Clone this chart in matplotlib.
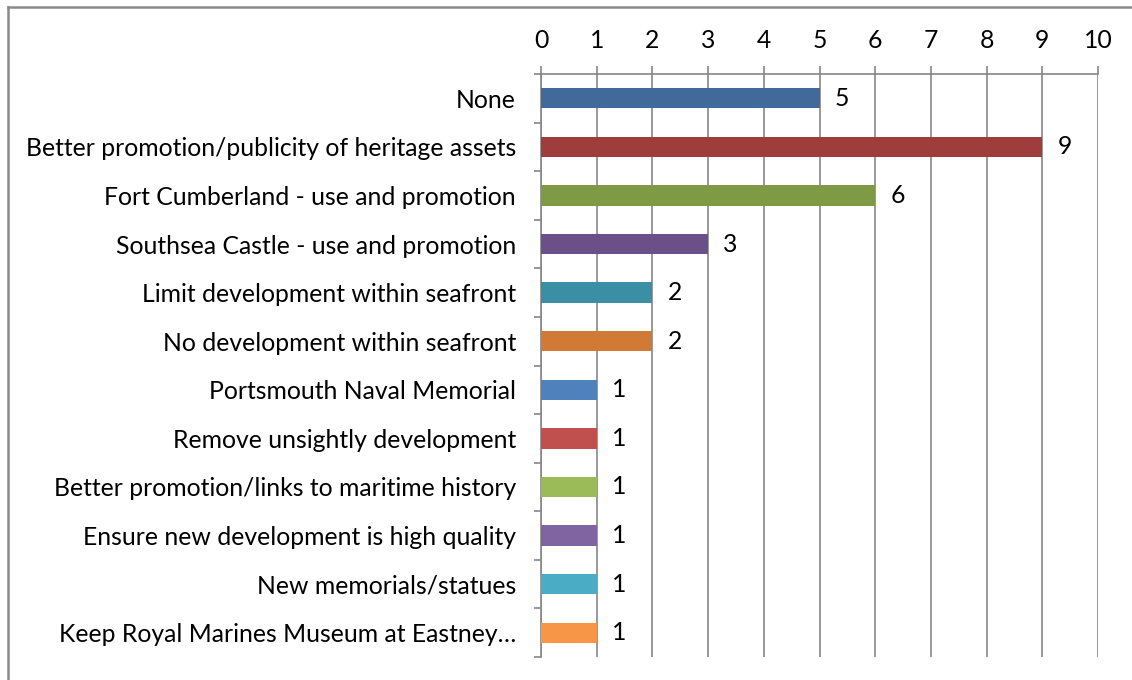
import matplotlib
matplotlib.use("Agg")
import matplotlib.pyplot as plt
from matplotlib.lines import Line2D

categories = [
    "None",
    "Better promotion/publicity of heritage assets",
    "Fort Cumberland - use and promotion",
    "Southsea Castle - use and promotion",
    "Limit development within seafront",
    "No development within seafront",
    "Portsmouth Naval Memorial",
    "Remove unsightly development",
    "Better promotion/links to maritime history",
    "Ensure new development is high quality",
    "New memorials/statues",
    "Keep Royal Marines Museum at Eastney\u2026",
]
values = [5, 9, 6, 3, 2, 2, 1, 1, 1, 1, 1, 1]
colors = ["#41699A", "#9E3D3C", "#7E9A44", "#6A4F88", "#3A8FA5", "#D07A36",
          "#4F81BD", "#C0504D", "#9BBB59", "#8064A2", "#4BACC6", "#F79646"]
x_ticks = list(range(0, 11))

FS = 17.8
plt.rcParams['font.family'] = ['Lato', 'DejaVu Sans']
fig = plt.figure(figsize=(11.32, 6.8), dpi=100)
ax = fig.add_axes([541/1132, 1-657/680, (1098-541)/1132, (657-74)/680])

pos = list(range(len(categories)))
ax.barh(pos, values, height=0.42, color=colors, zorder=3)
for p, v in zip(pos, values):
    ax.annotate(str(v), (v, p), xytext=(11, 0), textcoords='offset points',
                va='center', ha='left', fontsize=FS, color='black')

ax.set_xlim(0, 10)
ax.set_ylim(len(categories) - 0.5, -0.5)
ax.set_xticks(x_ticks)
ax.xaxis.tick_top()
ax.tick_params(axis='x', direction='out', length=6, width=1.2, color='#868686',
               labelsize=FS, pad=10)
ax.grid(axis='x', color='#868686', linewidth=1.2, zorder=0)

ax.set_yticks(pos)
ax.set_yticklabels(categories, fontsize=FS)
ax.tick_params(axis='y', which='major', length=0, pad=18)
ax.set_yticks([i - 0.5 for i in range(len(categories) + 1)], minor=True)
ax.tick_params(axis='y', which='minor', direction='out', length=5, width=1.2, color='#868686')

for s in ['right', 'bottom']:
    ax.spines[s].set_visible(False)
for s in ['left', 'top']:
    ax.spines[s].set_color('#868686')
    ax.spines[s].set_linewidth(1.2)

# chart frame (partially cropped)
fig.add_artist(Line2D([8/1132, 8/1132], [0, 1-7/680], transform=fig.transFigure,
                      color='#8a8a8a', linewidth=1.8))
fig.add_artist(Line2D([8/1132, 1], [1-7/680, 1-7/680], transform=fig.transFigure,
                      color='#8a8a8a', linewidth=1.8))

fig.savefig("out.png", dpi=100)
